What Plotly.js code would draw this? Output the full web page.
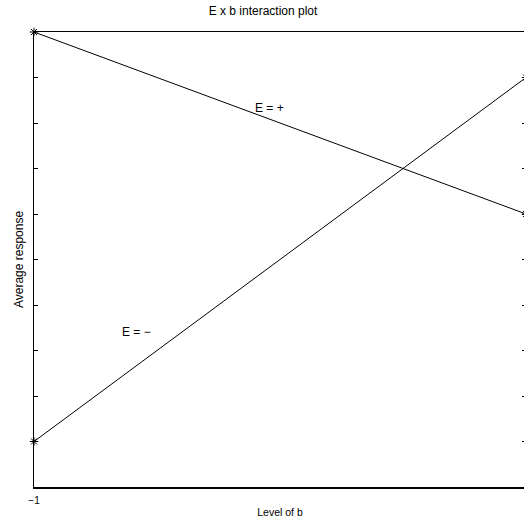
<!DOCTYPE html>
<html>
<head>
<meta charset="utf-8">
<script src="https://cdn.plot.ly/plotly-3.0.1.min.js"></script>
<style>
html,body{margin:0;padding:0;overflow:hidden;background:#fff;width:524px;height:522px;}
#wrap{width:524px;height:522px;overflow:hidden;position:relative;}
#chart{width:532px;height:522px;position:absolute;left:0;top:0;}
</style>
</head>
<body>
<div id="wrap"><div id="chart"></div></div>
<script>
// Data
const levelsB = [-1, 1];
const levelLabels = ["\u22121", ""];
const ePlus = [10, 6];
const eMinus = [1, 9];
const seriesNames = ["E = +", "E = \u2212"];
const labelPos = { plus: [-0.110, 8.33], minus: [-0.650, 3.40] };

const lineStyle = {color: '#000', width: 1};
const markerStyle = {symbol: 'asterisk-open', size: 7, color: '#000', line: {color: '#000', width: 1}};

const traces = [
  {x: levelsB, y: ePlus, mode: 'lines+markers', line: lineStyle, marker: markerStyle, cliponaxis: false, showlegend: false, name: seriesNames[0]},
  {x: levelsB, y: eMinus, mode: 'lines+markers', line: lineStyle, marker: markerStyle, cliponaxis: false, showlegend: false, name: seriesNames[1]}
];

const font = {family: 'Liberation Sans, Arial, sans-serif', color: '#000'};

const layout = {
  width: 532, height: 522, autosize: false,
  margin: {l: 34, r: 6, t: 32, b: 35},
  paper_bgcolor: '#fff', plot_bgcolor: '#fff',
  font: font,
  title: {text: 'E x b interaction plot', font: {size: 12, family: font.family, color: '#000'}, x: 263/532, xanchor: 'center', xref: 'container', y: 1 - 11/522, yanchor: 'middle', yref: 'container'},
  xaxis: {
    range: [-1, 1], tickvals: levelsB, ticktext: levelLabels, ticks: 'inside', ticklen: 4, tickcolor: '#000',
    showgrid: false, zeroline: false, showline: true, linecolor: '#000', linewidth: 1.5, mirror: true,
    tickfont: {size: 10}, ticklabelstandoff: 3,
    title: {text: 'Level of b', font: {size: 10.5}, standoff: 4}, automargin: false
  },
  yaxis: {
    range: [0, 10], dtick: 1, tick0: 0, ticks: 'inside', ticklen: 4, tickcolor: '#000',
    showticklabels: false, showgrid: false, zeroline: false, showline: true, linecolor: '#000', linewidth: 1.5, mirror: 'ticks',
    title: {text: 'Average response', font: {size: 12}, standoff: 6}, automargin: false
  },
  annotations: [
    {x: labelPos.plus[0], y: labelPos.plus[1], text: seriesNames[0], showarrow: false, xanchor: 'left', yanchor: 'middle', font: {size: 12}},
    {x: labelPos.minus[0], y: labelPos.minus[1], text: seriesNames[1], showarrow: false, xanchor: 'left', yanchor: 'middle', font: {size: 12}}
  ]
};

Plotly.newPlot('chart', traces, layout, {displayModeBar: false, staticPlot: true});
</script>
</body>
</html>
